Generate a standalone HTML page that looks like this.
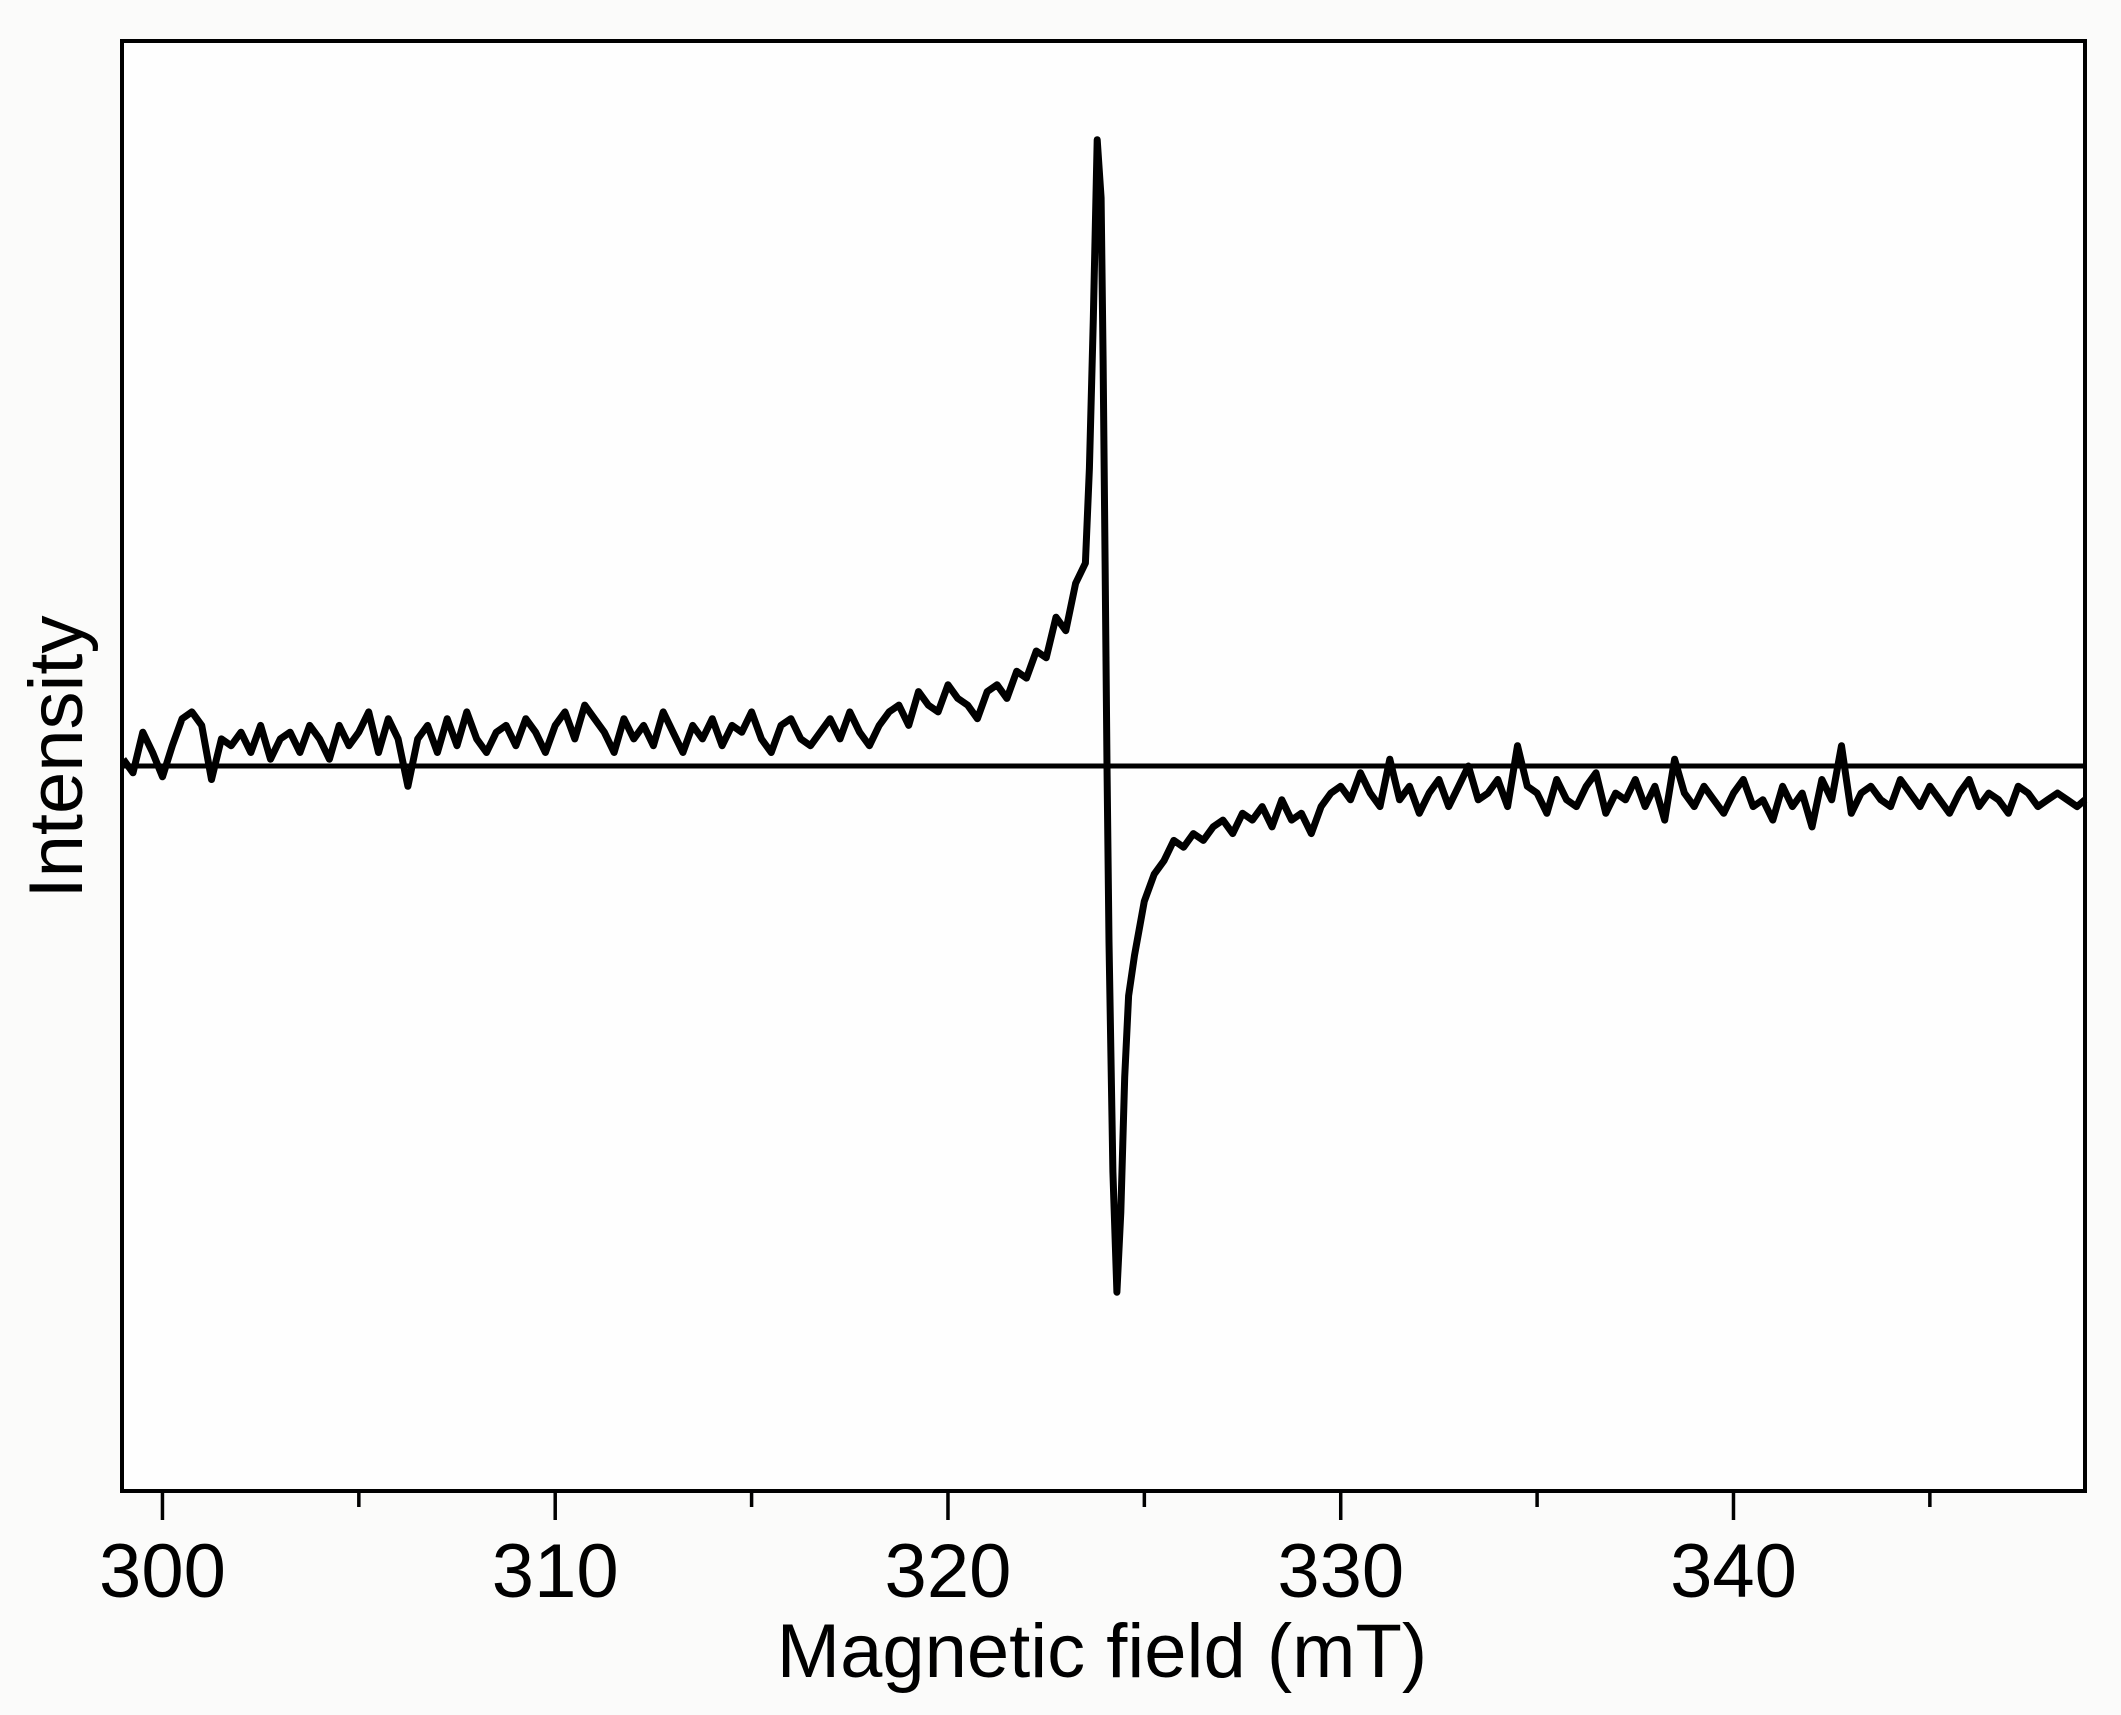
<!DOCTYPE html>
<html><head><meta charset="utf-8"><style>
html,body{margin:0;padding:0;background:#fbfbfa;}
svg{display:block;}
text{font-family:"Liberation Sans",Arial,sans-serif;fill:#000;}
</style></head><body>
<svg id="chart" width="2121" height="1715" viewBox="0 0 2121 1715" xmlns="http://www.w3.org/2000/svg">
<rect x="122" y="41" width="1963" height="1450" fill="#fefefe"/>
<g id="ticks"></g>
<line id="base" stroke="#000" stroke-width="5"/>
<path id="trace" fill="none" stroke="#000" stroke-width="7" stroke-linejoin="round"/>
<rect x="122" y="41" width="1963" height="1450" fill="none" stroke="#000" stroke-width="4"/>
<text x="1102" y="1677" font-size="76" text-anchor="middle">Magnetic field (mT)</text>
<text x="0" y="0" font-size="76" text-anchor="middle" transform="translate(82,757) rotate(-90)">Intensity</text>
</svg>
<script>
const leftStart = 299, leftStep = 0.25;
const leftValues = [5,-5,25,10,-8,15,35,40,30,-10,20,15,25,10,30,5,20,25,10,30,
20,5,30,15,25,40,10,35,20,-15,20,30,10,35,15,40,20,10,25,30,
15,35,25,10,30,40,20,45,35,25,10,35,20,30,15,40,25,10,30,20,
35,15,30,25,40,20,10,30,35,20,15,25,35,20,40,25,15,30,40,45,
30,55,45,40,60,50,45,35,55,60,50,70,65,85,80,110,100,135,150];
const peakFields = [323.6,323.7,323.8,323.9,323.95,324.0,324.05,324.1,324.2,324.3,324.4,324.5,324.6,324.75,325.0];
const peakValues = [220,330,463,420,300,150,0,-130,-300,-389,-330,-230,-170,-140,-100];
const rightStart = 325.25, rightStep = 0.25;
const rightValues = [-80,-70,-55,-60,-50,-55,-45,-40,-50,-35,-40,-30,-45,-25,-40,-35,-50,-30,-20,
-15,-25,-5,-20,-30,5,-25,-15,-35,-20,-10,-30,-15,0,-25,-20,-10,-30,15,-15,
-20,-35,-10,-25,-30,-15,-5,-35,-20,-25,-10,-30,-15,-40,5,-20,-30,-15,-25,-35,
-20,-10,-30,-25,-40,-15,-30,-20,-45,-10,-25,15,-35,-20,-15,-25,-30,-10,-20,-30,
-15,-25,-35,-20,-10,-30,-20,-25,-35,-15,-20,-30,-25,-20,-25,-30,-25];
const majorTicks = [300,310,320,330,340];
const minorTicks = [305,315,325,335,345];
const xMin = 298.97, xMax = 348.95, yMin = -536, yMax = 536;
const L=122,R=2085,T=41,B=1491;
const sx = v => L + (v - xMin) / (xMax - xMin) * (R - L);
const sy = v => B - (v - yMin) / (yMax - yMin) * (B - T);
const NS = "http://www.w3.org/2000/svg";
const pts = [];
leftValues.forEach((v,i)=>pts.push([leftStart+i*leftStep, v]));
peakFields.forEach((f,i)=>pts.push([f, peakValues[i]]));
rightValues.forEach((v,i)=>pts.push([rightStart+i*rightStep, v]));
const tr = document.getElementById('trace');
tr.setAttribute('d', pts.map((p,i)=>(i?'L':'M')+sx(Math.max(xMin,Math.min(xMax,p[0]))).toFixed(1)+' '+sy(p[1]).toFixed(1)).join(' '));
const b = document.getElementById('base');
b.setAttribute('x1', L); b.setAttribute('x2', R); b.setAttribute('y1', sy(0)); b.setAttribute('y2', sy(0));
const g = document.getElementById('ticks');
majorTicks.forEach(t=>{
  const l = document.createElementNS(NS,'line');
  
  
  l.setAttribute('x1',sx(t)); l.setAttribute('x2',sx(t)); l.setAttribute('y1',B); l.setAttribute('y2',B+29);
  l.setAttribute('stroke','#000'); l.setAttribute('stroke-width','3.5');
  g.appendChild(l);
  const tx = document.createElementNS(NS,'text');
  
  
  tx.setAttribute('x',sx(t)); tx.setAttribute('y',1597);
  tx.setAttribute('font-size','76'); tx.setAttribute('text-anchor','middle');
  tx.textContent = t;
  g.appendChild(tx);
});
minorTicks.forEach(t=>{
  const l = document.createElementNS(NS,'line');
  
  
  l.setAttribute('x1',sx(t)); l.setAttribute('x2',sx(t)); l.setAttribute('y1',B); l.setAttribute('y2',B+16);
  l.setAttribute('stroke','#000'); l.setAttribute('stroke-width','3.5');
  g.appendChild(l);
});
</script>
</body></html>
